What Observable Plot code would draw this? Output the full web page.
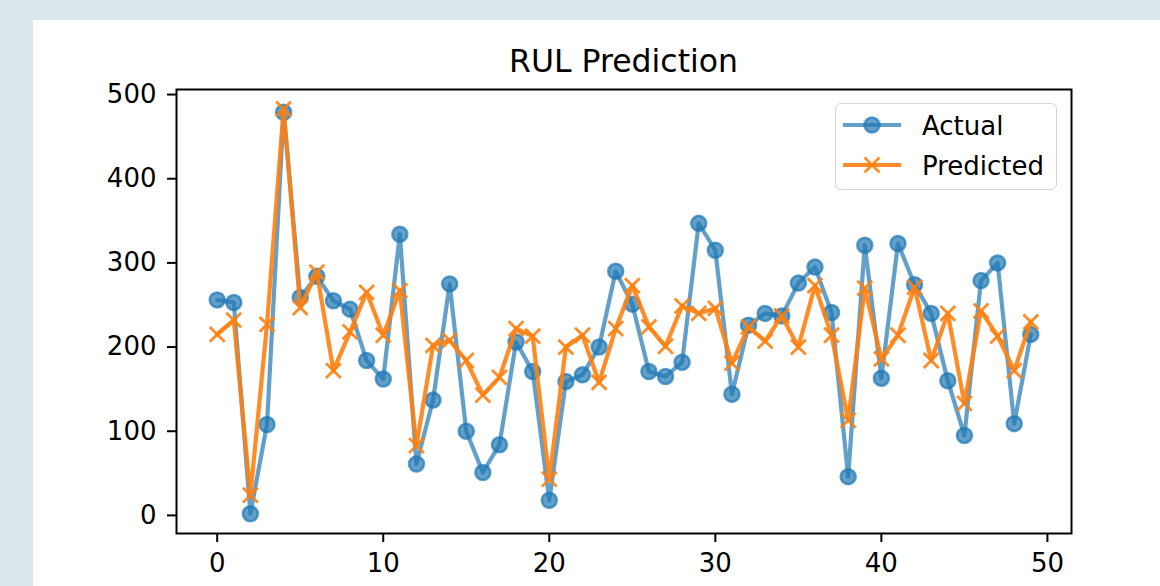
<!DOCTYPE html>
<html>
<head>
<meta charset="utf-8">
<script src="https://cdn.jsdelivr.net/npm/d3@7"></script>
<script src="https://cdn.jsdelivr.net/npm/@observablehq/plot@0.6"></script>
<style>
  html, body { margin: 0; padding: 0; }
  body { width: 1160px; height: 586px; background: #dae6ec; position: relative; overflow: hidden; font-family: "DejaVu Sans", sans-serif; }
  #panel { position: absolute; left: 33px; top: 20px; width: 1127px; height: 566px; background: #ffffff; }
  #chart { position: absolute; left: 0; top: 0; }
  #title { position: absolute; left: 176px; width: 895px; top: 46px; text-align: center; font-size: 31.5px; line-height: 31.5px; color: #000; }
  #legend { position: absolute; left: 835px; top: 103px; width: 222px; height: 87px; box-sizing: border-box; border: 1.5px solid #d4d4d4; border-radius: 6px; background: rgba(255,255,255,0.8); }
  #legend svg { position: absolute; left: -1.5px; top: -1.5px; }
</style>
</head>
<body>
<div id="panel"></div>
<div id="chart"></div>
<div id="title">RUL Prediction</div>
<div id="legend"></div>
<script>
const seriesNames = ["Actual", "Predicted"];
const actual = [256,253,2,108,479,259,284,255,245,184,162,334,61,137,275,100,51,84,206,171,18,159,167,200,290,251,171,165,182,347,315,144,226,240,237,276,295,241,46,321,163,323,274,240,160,95,279,300,109,215];
const predicted = [215,232,24,227,483,247,289,172,218,265,214,267,83,202,208,184,143,164,222,213,43,200,214,158,222,273,224,201,249,240,246,181,224,207,237,200,273,214,113,270,186,214,271,184,240,133,243,213,172,230];
const xTicks = [0,10,20,30,40,50];
const yTicks = [0,100,200,300,400,500];
const colors = ["#1f77b4", "#ff7f0e"];

const rows = actual.map((a, i) => ({i, actual: a, predicted: predicted[i]}));

const chart = Plot.plot({
  width: 1160,
  height: 586,
  marginLeft: 176,
  marginRight: 89,
  marginTop: 89,
  marginBottom: 53,
  style: {background: "transparent", fontFamily: "DejaVu Sans", fontSize: "26px", color: "black", overflow: "visible"},
  x: {domain: [-2.45, 51.45]},
  y: {domain: [-21.5, 506]},
  marks: [
    Plot.axisX({ticks: xTicks, tickSize: 9, tickPadding: 11, strokeWidth: 2, fontSize: 26, label: null, tickFormat: d => String(d)}),
    Plot.axisY({ticks: yTicks, tickSize: 9, tickPadding: 11, strokeWidth: 2, fontSize: 26, label: null, tickFormat: d => String(d)}),
    Plot.line(rows, {x: "i", y: "actual", stroke: colors[0], strokeOpacity: 0.7, strokeWidth: 4.2, clip: true}),
    Plot.dot(rows, {x: "i", y: "actual", r: 7.5, fill: colors[0], fillOpacity: 0.7, stroke: colors[0], strokeOpacity: 0.7, strokeWidth: 2.5, clip: true}),
    Plot.line(rows, {x: "i", y: "predicted", stroke: colors[1], strokeOpacity: 0.9, strokeWidth: 4.2, clip: true}),
    Plot.dot(rows, {x: "i", y: "predicted", symbol: "times", r: 6.8, stroke: colors[1], strokeOpacity: 0.9, strokeWidth: 2.8, clip: true}),
    Plot.frame({stroke: "black", strokeWidth: 2})
  ]
});
document.getElementById("chart").appendChild(chart);

// Legend
const lg = d3.select("#legend").append("svg").attr("width", 222).attr("height", 87);
seriesNames.forEach((name, k) => {
  const y = 22 + k * 40;
  lg.append("line").attr("x1", 8).attr("x2", 66).attr("y1", y).attr("y2", y)
    .attr("stroke", colors[k]).attr("stroke-width", 4.2).attr("stroke-opacity", k === 0 ? 0.7 : 0.9);
  if (k === 0) {
    lg.append("circle").attr("cx", 37).attr("cy", y).attr("r", 7.5)
      .attr("fill", colors[0]).attr("fill-opacity", 0.7)
      .attr("stroke", colors[0]).attr("stroke-opacity", 0.7).attr("stroke-width", 2.5);
  } else {
    const s = 7.5;
    lg.append("path").attr("d", `M${37-s},${y-s}L${37+s},${y+s}M${37-s},${y+s}L${37+s},${y-s}`)
      .attr("stroke", colors[1]).attr("stroke-opacity", 0.9).attr("stroke-width", 2.8).attr("fill", "none");
  }
  lg.append("text").attr("x", 87).attr("y", y + 10).attr("font-size", 26)
    .attr("font-family", "DejaVu Sans").attr("fill", "#000").text(name);
});
</script>
</body>
</html>
